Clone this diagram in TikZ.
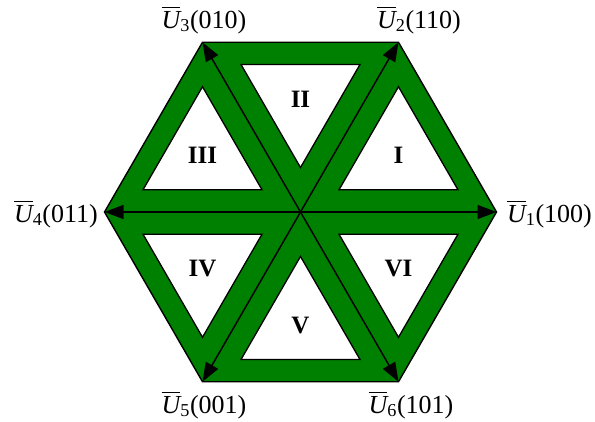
\documentclass[tikz,border=0pt]{standalone}
\usepackage{amsmath}
\usepackage{fontspec}
\setmainfont{Liberation Serif}
\usetikzlibrary{arrows.meta,calc}
\definecolor{hexgreen}{RGB}{0,128,0}
\tikzset{
  hexfill/.style={fill=hexgreen,draw=black,line width=1.4pt,line join=miter},
  innertri/.style={fill=white,draw=black,line width=1.3pt},
  vecarrow/.style={draw=black,line width=1.5pt,-{Triangle[length=19pt,width=14pt]},shorten >=0pt},
  veclabel/.style={font=\fontsize{26}{30}\selectfont,inner sep=0pt},
  seclabel/.style={font=\fontsize{25}{30}\selectfont\bfseries,inner sep=0pt}
}
\newcommand{\Uvec}[2]{$\overline{\text{\itshape U}}_{\text{#1}}$(#2)}
\begin{document}
\begin{tikzpicture}[x=1pt,y=1pt]
\useasboundingbox (0,0) rectangle (595,421);
\coordinate (C) at (300.5,209);
\foreach \k in {1,...,6} {
  \coordinate (V\k) at ($(C)+({60*(\k-1)}:196)$);
}
\draw[hexfill] (V1) -- (V2) -- (V3) -- (V4) -- (V5) -- (V6) -- cycle;
% inner triangles: scaled sector triangles about their centroids
\foreach \k/\n in {1/2,2/3,3/4,4/5,5/6,6/1} {
  \coordinate (G\k) at ($1/3*(C)+1/3*(V\k)+1/3*(V\n)$);
  \draw[innertri] ($(G\k)!0.607!(C)$) -- ($(G\k)!0.607!(V\k)$) -- ($(G\k)!0.607!(V\n)$) -- cycle;
}
\node[seclabel] (s1) at (G1) {I};
\node[seclabel] (s2) at (G2) {II};
\node[seclabel] (s3) at (G3) {III};
\node[seclabel] (s4) at (G4) {IV};
\node[seclabel] (s5) at (G5) {V};
\node[seclabel] (s6) at (G6) {VI};
\foreach \k in {1,...,6} {
  \draw[vecarrow] (C) -- (V\k);
}
\node[veclabel,anchor=west] (l1) at (507,207) {\Uvec{1}{100}};
\node[veclabel] (l2) at (419,401) {\Uvec{2}{110}};
\node[veclabel] (l3) at (204,401) {\Uvec{3}{010}};
\node[veclabel,anchor=east] (l4) at (98,207) {\Uvec{4}{011}};
\node[veclabel] (l5) at (204,16) {\Uvec{5}{001}};
\node[veclabel] (l6) at (411,16) {\Uvec{6}{101}};
\end{tikzpicture}
\end{document}
